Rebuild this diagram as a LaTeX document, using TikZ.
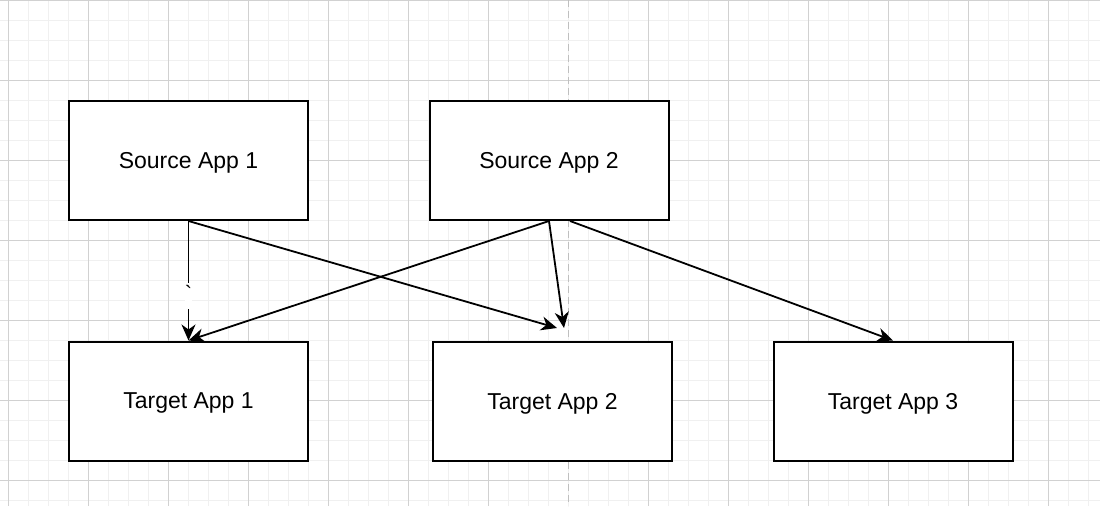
\documentclass[tikz,border=0pt]{standalone}
\usepackage{fontspec}
\setmainfont{Liberation Sans}
\usepackage{tikz}
\usetikzlibrary{calc,arrows.meta}

\tikzset{
	app/.style={draw, line width=2pt, fill=white, minimum width=239pt, minimum height=119pt, text depth=0pt, font=\fontsize{23}{27}\selectfont},
	link/.style={line width=1.8pt, -{Stealth[length=16pt, width=14pt, inset=5pt]}},
	minor/.style={color=black!6, line width=1pt},
	major/.style={color=black!18, line width=1pt}
}

\begin{document}
\begin{tikzpicture}[x=1pt, y=-1pt]
			\useasboundingbox (0,0) rectangle (1100,506);
			\fill[white] (0,0) rectangle (1100,506);
			% grid of the canvas
			\foreach \x in {8,28,...,1100} \draw[minor] (\x,0)--(\x,506);
			\foreach \y in {0,20,...,506} \draw[minor] (0,\y)--(1100,\y);
			\foreach \x in {8,88,...,488,648,728,...,1100} \draw[major] (\x,0)--(\x,506);
			\foreach \y in {0,80,...,506} \draw[major] (0,\y)--(1100,\y);
			\draw[color=black!25, line width=1.6pt, dash pattern=on 7pt off 4pt] (568.5,0)--(568.5,506);
			% apps
			\node[app] (src1) at (188.5,160.5) {Source App 1};
			\node[app] (src2) at (549,160.5) {Source App 2};
			\node[app] (tgt1) at (188.5,401) {Target App 1};
			\node[app] (tgt2) at (552.5,401) {Target App 2};
			\node[app] (tgt3) at (893,401) {Target App 3};
			\coordinate (end1) at (557,328);
			\coordinate (end2) at (564,328);
			% links
			\draw[link] (src1.south)--(tgt1.north) node[pos=0.63, fill=white, inner sep=0pt, font=\fontsize{22}{26}\selectfont]{\strut\textasciigrave};
			\draw[link] (src1.south)--(end1);
			\draw[link] (src2.south)--(tgt1.north);
			\draw[link] (src2.south)--(end2);
			\draw[link] ($(src2.south)+(21,0)$)--(tgt3.north);
		\end{tikzpicture}
\end{document}
